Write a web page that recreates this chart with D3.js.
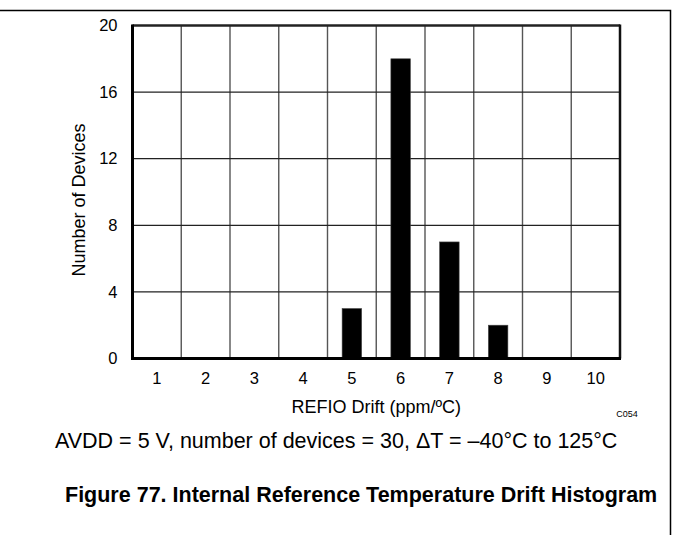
<html>
  <head>
    <title>drift histogram</title>
    <script src="https://d3js.org/d3.v7.min.js"></script>
    <style>
      body { margin: 0; background: #fff; }
      text { font-family: "Liberation Sans", Arial, sans-serif; fill: #000; }
    </style>
  </head>
  <body>
    <div id="wrapper"></div>
    <script>
      // data
      var drift = [1, 2, 3, 4, 5, 6, 7, 8, 9, 10];
      var devices = [0, 0, 0, 0, 3, 18, 7, 2, 0, 0];
      var yTicks = [0, 4, 8, 12, 16, 20];

      var width = 673, height = 535;
      // plot box (note: "top" is reserved on window, so use pTop)
      var pLeft = 132.5, pRight = 620, pTop = 25.5, pBottom = 358.5;

      var svg = d3.select("#wrapper").append("svg")
        .attr("width", width)
        .attr("height", height);

      // outer page frame (top + right edge)
      svg.append("path")
        .attr("d", "M0,10.5H670.5V535")
        .attr("fill", "none")
        .attr("stroke", "#000")
        .attr("stroke-width", 1.5);

      var xScale = d3.scaleBand().domain(drift).range([pLeft, pRight]);
      var yScale = d3.scaleLinear().domain([0, 20]).range([pBottom, pTop]);

      // grid lines
      svg.append("g").selectAll("line")
        .data(drift.slice(1))
        .enter().append("line")
        .attr("x1", function(d) { return xScale(d); })
        .attr("x2", function(d) { return xScale(d); })
        .attr("y1", pTop).attr("y2", pBottom)
        .attr("stroke", "#555")
        .attr("stroke-width", 1.4);

      svg.append("g").selectAll("line")
        .data(yTicks.slice(1, -1))
        .enter().append("line")
        .attr("x1", pLeft).attr("x2", pRight)
        .attr("y1", function(d) { return yScale(d); })
        .attr("y2", function(d) { return yScale(d); })
        .attr("stroke", "#222")
        .attr("stroke-width", 1.3);

      // bars
      var barW = xScale.bandwidth() * 0.4;
      svg.append("g").selectAll("rect")
        .data(drift.filter(function(d, i) { return devices[i] > 0; }))
        .enter().append("rect")
        .attr("x", function(d) { return xScale(d) + xScale.bandwidth() / 2 - barW / 2; })
        .attr("y", function(d) { return yScale(devices[drift.indexOf(d)]); })
        .attr("width", barW)
        .attr("height", function(d) { return pBottom - yScale(devices[drift.indexOf(d)]); })
        .attr("fill", "#000")
        .attr("stroke", "#444")
        .attr("stroke-width", 0.6);

      // plot frame
      svg.append("line").attr("x1", pLeft).attr("x2", pRight).attr("y1", pTop).attr("y2", pTop)
        .attr("stroke", "#222").attr("stroke-width", 2.5);
      svg.append("line").attr("x1", pRight).attr("x2", pRight).attr("y1", pTop - 1).attr("y2", pBottom)
        .attr("stroke", "#111").attr("stroke-width", 2.5);
      svg.append("line").attr("x1", pLeft).attr("x2", pLeft).attr("y1", pTop - 1).attr("y2", pBottom + 1.5)
        .attr("stroke", "#000").attr("stroke-width", 3);
      svg.append("line").attr("x1", pLeft - 1.5).attr("x2", pRight + 1).attr("y1", pBottom).attr("y2", pBottom)
        .attr("stroke", "#000").attr("stroke-width", 3);

      // axes (labels only)
      var yAxis = d3.axisLeft(yScale).tickValues(yTicks).tickSize(0).tickPadding(15);
      var gy = svg.append("g")
        .attr("transform", "translate(" + pLeft + ",0)")
        .call(yAxis);
      gy.select(".domain").remove();
      gy.selectAll("text").style("font-size", "16.5px").style("font-family", "Liberation Sans, Arial, sans-serif");

      var xAxis = d3.axisBottom(xScale).tickSize(0).tickPadding(14);
      var gx = svg.append("g")
        .attr("transform", "translate(0," + pBottom + ")")
        .call(xAxis);
      gx.select(".domain").remove();
      gx.selectAll("text").style("font-size", "16.5px").style("font-family", "Liberation Sans, Arial, sans-serif");

      svg.append("text")
        .attr("transform", "rotate(-90)")
        .attr("x", -200)
        .attr("y", 85)
        .style("text-anchor", "middle")
        .style("font-size", "18px")
        .text("Number of Devices");

      svg.append("text")
        .attr("x", (pLeft + pRight) / 2)
        .attr("y", 413)
        .style("text-anchor", "middle")
        .style("font-size", "18px")
        .text("REFIO Drift (ppm/ºC)");

      svg.append("text")
        .attr("x", 627)
        .attr("y", 417)
        .style("text-anchor", "middle")
        .style("font-size", "9px")
        .text("C054");

      svg.append("text")
        .attr("x", 55)
        .attr("y", 448)
        .style("font-size", "21.5px")
        .text("AVDD = 5 V, number of devices = 30, ΔT = –40°C to 125°C");

      svg.append("text")
        .attr("x", 65)
        .attr("y", 502)
        .style("font-size", "21.5px")
        .style("font-weight", "bold")
        .text("Figure 77. Internal Reference Temperature Drift Histogram");
    </script>
  </body>
</html>
